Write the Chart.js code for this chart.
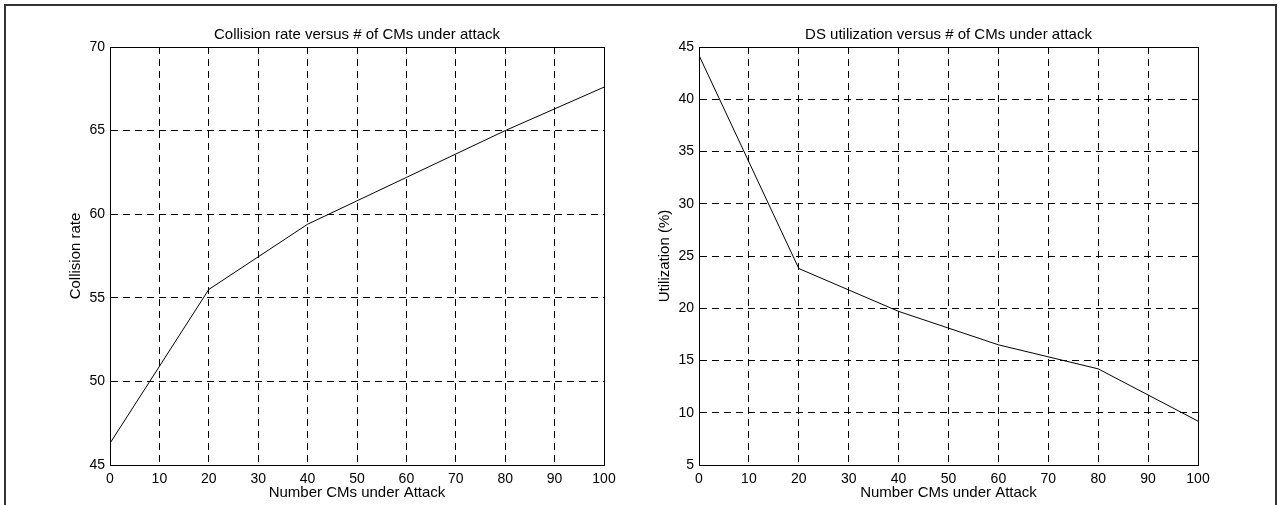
<!DOCTYPE html>
<html lang="en">
<head>
  <meta charset="UTF-8"/>
  <title>Collision rate / DS utilization versus # of CMs under attack</title>
  <script src="https://cdn.jsdelivr.net/npm/chart.js@4.4.1/dist/chart.umd.min.js"></script>
  <style>
    html, body { margin: 0; padding: 0; background: #fff; overflow: hidden; }
    body { width: 1279px; height: 505px; position: relative; }
    #frame {
      position: absolute; left: 4px; top: 4px; width: 1273px; height: 520px;
      border: 2px solid #333; box-sizing: border-box;
    }
    canvas { position: absolute; top: 0; }
    #collisionChart { left: 0; }
    #utilChart { left: 640px; }
  </style>
</head>
<body>
  <div id="frame"></div>
  <canvas id="collisionChart" width="640" height="505"></canvas>
  <canvas id="utilChart" width="639" height="505"></canvas>

  <script>
    // values
    const attackedCMs = [0, 20, 40, 60, 80, 100];
    const collisionRate = [46.3, 55.5, 59.4, 62.2, 65.0, 67.6];
    const utilization = [44.2, 23.8, 19.7, 16.5, 14.2, 9.2];

    const xTitle = 'Number CMs under Attack';

    Chart.defaults.font.family = 'Helvetica, Arial, "Liberation Sans", sans-serif';
    Chart.defaults.font.size = 14;
    Chart.defaults.color = '#000';

    // solid box round the plot area, like the matlab axes
    const axesBox = {
      id: 'axesBox',
      afterDatasetsDraw(chart) {
        const a = chart.chartArea;
        const ctx = chart.ctx;
        ctx.save();
        ctx.strokeStyle = '#000';
        ctx.lineWidth = 1;
        ctx.strokeRect(Math.round(a.left) + 0.5, Math.round(a.top) + 0.5,
          Math.round(a.right - a.left), Math.round(a.bottom - a.top));
        ctx.restore();
      }
    };

    function makeChart(id, title, yLabel, values, yMin, yMax, lay) {
      const points = attackedCMs.map((x, i) => ({ x, y: values[i] }));
      return new Chart(document.getElementById(id).getContext('2d'), {
        type: 'line',
        data: {
          datasets: [{
            data: points,
            borderColor: '#000',
            borderWidth: 1,
            pointRadius: 0,
            tension: 0,
            fill: false
          }]
        },
        options: {
          responsive: false,
          animation: false,
          devicePixelRatio: 1,
          layout: { padding: { left: 0, right: lay.right, top: 0, bottom: 0 } },
          plugins: {
            legend: { display: false },
            tooltip: { enabled: false },
            title: {
              display: true,
              text: title,
              fullSize: false,
              color: '#000',
              font: { size: 15, weight: 'normal' },
              padding: { top: 26, bottom: 3 }
            }
          },
          scales: {
            x: {
              type: 'linear',
              min: 0, max: 100,
              ticks: { stepSize: 10, padding: 6, maxRotation: 0, color: '#000', font: { size: 14 } },
              grid: { color: '#000', lineWidth: 1, drawTicks: false },
              border: { display: true, color: '#000', dash: [7, 5] },
              title: { display: true, text: xTitle, color: '#000', font: { size: 15 }, padding: { top: 0, bottom: 3 } },
              afterFit(s) { s.height = 40; }
            },
            y: {
              min: yMin, max: yMax,
              ticks: { stepSize: 5, padding: 5, color: '#000', font: { size: 14 } },
              grid: { color: '#000', lineWidth: 1, drawTicks: false },
              border: { display: true, color: '#000', dash: [7, 5] },
              title: { display: true, text: yLabel, color: '#000', font: { size: 15 }, padding: { top: lay.yTitle, bottom: 0 } },
              afterFit(s) { s.width = lay.left; }
            }
          }
        },
        plugins: [axesBox]
      });
    }

    makeChart('collisionChart', 'Collision rate versus # of CMs under attack', 'Collision rate',
      collisionRate, 45, 70, { left: 110, right: 36, yTitle: 67 });
    makeChart('utilChart', 'DS utilization versus # of CMs under attack', 'Utilization (%)',
      utilization, 5, 45, { left: 59, right: 81, yTitle: 16 });
  </script>
</body>
</html>
